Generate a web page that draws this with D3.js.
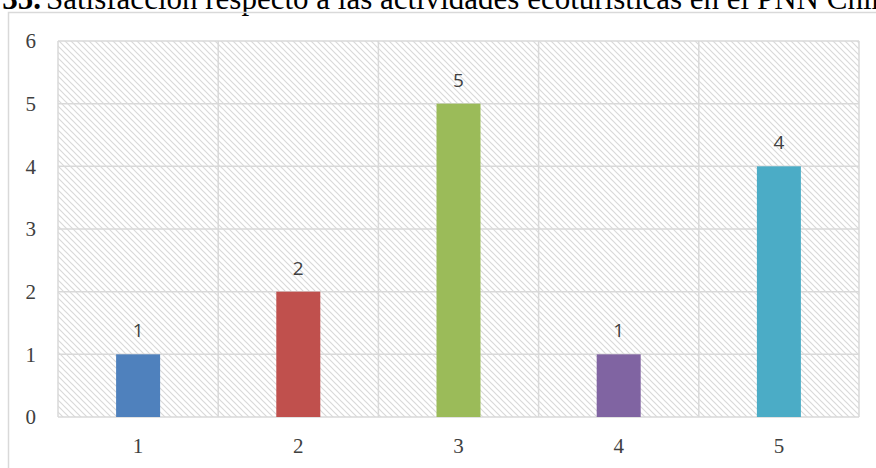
<!DOCTYPE html>
<html>
<head>
<meta charset="utf-8">
<script src="https://cdn.jsdelivr.net/npm/d3@7"></script>
<style>
  body { margin: 0; background: #fff; }
  svg { display: block; }
</style>
</head>
<body>
<div id="chart"></div>
<script>
// chart values
const categories = ["1", "2", "3", "4", "5"];
const values = [1, 2, 5, 1, 4];
const barColors = ["#4F81BD", "#C0504D", "#9BBB59", "#8064A2", "#4BACC6"];
const yTicks = [0, 1, 2, 3, 4, 5, 6];
const titleBold = "Figura 35.";
const titleText = "Satisfacción respecto a las actividades ecoturísticas en el PNN Chingaza";

const width = 876, height = 468;
const plot = {left: 58, right: 859, top: 41, bottom: 417};

const svg = d3.select("#chart").append("svg")
    .attr("width", width)
    .attr("height", height);

// hatch pattern for the plot background
const defs = svg.append("defs");
const pat = defs.append("pattern")
    .attr("id", "hatch")
    .attr("patternUnits", "userSpaceOnUse")
    .attr("width", 6)
    .attr("height", 6);
pat.append("path")
    .attr("d", "M-1,-1 L7,7 M-1,5 L1,7 M5,-1 L7,1")
    .attr("stroke", "#d9d9d9")
    .attr("stroke-width", 1.2);

// title (cut off at the top of the picture)
svg.append("text")
    .attr("x", 41)
    .attr("y", 9)
    .attr("text-anchor", "end")
    .style("font-family", "'Liberation Serif', 'Times New Roman', serif")
    .style("font-size", "31px")
    .style("font-weight", "bold")
    .text(titleBold);
svg.append("text")
    .attr("x", 46)
    .attr("y", 9)
    .style("font-family", "'Liberation Serif', 'Times New Roman', serif")
    .style("font-size", "31px")
    .text(titleText);

// outer chart border (runs off right and bottom)
svg.append("path")
    .attr("d", `M8.5,${height + 2} L8.5,12.5 L${width + 2},12.5`)
    .attr("fill", "none")
    .attr("stroke", "#d9d9d9")
    .attr("stroke-width", 1.5);

const x = d3.scaleBand()
    .domain(categories)
    .range([plot.left, plot.right]);

const y = d3.scaleLinear()
    .domain([0, 6])
    .range([plot.bottom, plot.top]);

svg.append("rect")
    .attr("x", plot.left)
    .attr("y", plot.top)
    .attr("width", plot.right - plot.left)
    .attr("height", plot.bottom - plot.top)
    .attr("fill", "url(#hatch)");

// horizontal grid
svg.append("g")
    .selectAll("line")
    .data(yTicks)
    .enter()
    .append("line")
    .attr("x1", plot.left)
    .attr("x2", plot.right)
    .attr("y1", d => y(d))
    .attr("y2", d => y(d))
    .attr("stroke", "#d9d9d9")
    .attr("stroke-width", 1.5);

// vertical grid at band edges
const edges = categories.map(c => x(c)).concat([plot.right]);
svg.append("g")
    .selectAll("line")
    .data(edges)
    .enter()
    .append("line")
    .attr("x1", d => d)
    .attr("x2", d => d)
    .attr("y1", plot.top)
    .attr("y2", plot.bottom)
    .attr("stroke", "#d9d9d9")
    .attr("stroke-width", 1.5);

// bars
const barW = 44;
svg.append("g")
    .selectAll("rect")
    .data(values)
    .enter()
    .append("rect")
    .attr("x", (d, i) => x(categories[i]) + x.bandwidth() / 2 - barW / 2)
    .attr("y", d => y(d))
    .attr("width", barW)
    .attr("height", d => y(0) - y(d))
    .attr("fill", (d, i) => barColors[i]);

// data labels
svg.append("g")
    .selectAll("text")
    .data(values)
    .enter()
    .append("text")
    .attr("x", (d, i) => x(categories[i]) + x.bandwidth() / 2)
    .attr("y", d => y(d) - 17)
    .attr("text-anchor", "middle")
    .style("font-family", "'Open Sans', sans-serif")
    .style("font-size", "19px")
    .style("fill", "#404040")
    .text(d => d);

// y axis labels
svg.append("g")
    .selectAll("text")
    .data(yTicks)
    .enter()
    .append("text")
    .attr("x", 36)
    .attr("y", d => y(d))
    .attr("dy", "0.35em")
    .attr("text-anchor", "end")
    .style("font-family", "'Liberation Serif', 'Times New Roman', serif")
    .style("font-size", "21px")
    .style("fill", "#404040")
    .text(d => d);

// x axis labels
svg.append("g")
    .selectAll("text")
    .data(categories)
    .enter()
    .append("text")
    .attr("x", d => x(d) + x.bandwidth() / 2)
    .attr("y", 453)
    .attr("text-anchor", "middle")
    .style("font-family", "'Liberation Serif', 'Times New Roman', serif")
    .style("font-size", "21px")
    .style("fill", "#404040")
    .text(d => d);
</script>
</body>
</html>
